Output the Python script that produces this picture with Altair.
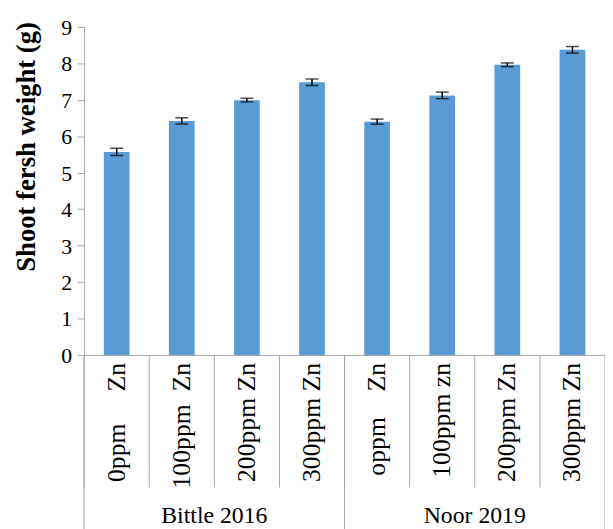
import altair as alt
import pandas as pd

# ---- data ----
keys = ["b0", "b100", "b200", "b300", "n0", "n100", "n200", "n300"]
labels = ["0ppm\u00a0\u00a0\u00a0\u00a0\u00a0Zn", "100ppm\u00a0\u00a0Zn", "200ppm Zn", "300ppm Zn",
          "oppm\u00a0\u00a0\u00a0\u00a0Zn", "100ppm zn", "200ppm Zn", "300ppm Zn"]
values = [5.57, 6.42, 6.99, 7.48, 6.40, 7.12, 7.96, 8.37]
errors = [0.10, 0.085, 0.05, 0.09, 0.07, 0.09, 0.05, 0.09]
groups = ["Bittle 2016", "Noor 2019"]
group_mid_keys = ["b200", "n200"]
group_start_keys = ["b0", "n0"]
y_ticks = [0, 1, 2, 3, 4, 5, 6, 7, 8, 9]

W, H = 527, 332
FONT = "Liberation Serif"
GREY = "#a6a6a6"

df = pd.DataFrame({"key": keys, "label": labels, "value": values, "err": errors})
df["lo"] = df["value"] - df["err"]
df["hi"] = df["value"] + df["err"]

xscale = alt.Scale(domain=keys, paddingInner=0, paddingOuter=0)
yscale = alt.Scale(domain=[0, 9], nice=False)

xaxis = alt.Axis(title=None, labels=False, ticks=False, domain=True,
                 domainColor=GREY, domainWidth=1, grid=False)
yaxis = alt.Axis(values=y_ticks, grid=False, tickSize=7, tickColor=GREY,
                 domainColor=GREY, labels=False,
                 title="Shoot fersh weight (g)", titleFont=FONT,
                 titleFontSize=27, titleFontWeight="bold", titleColor="black",
                 titleX=-58, titleY=121, titleAlign="center",
                 titleBaseline="middle")


def xk(band=0.5):
    return alt.X("key:N", scale=xscale, sort=None, axis=xaxis, bandPosition=band)


def yk(field):
    return alt.Y(field, scale=yscale, axis=yaxis)


base = alt.Chart(df)

bars = base.mark_bar(color="#5B9BD5", width=26).encode(x=xk(), y=yk("value:Q"))

err_rule = base.mark_rule(color="black", strokeWidth=1.5).encode(
    x=xk(), y=yk("lo:Q"), y2="hi:Q")
err_lo = base.mark_tick(color="black", size=13, thickness=1.5).encode(
    x=xk(), y=yk("lo:Q"))
err_hi = base.mark_tick(color="black", size=13, thickness=1.5).encode(
    x=xk(), y=yk("hi:Q"))

ytext = alt.Chart(pd.DataFrame({"t": y_ticks})).mark_text(
    font=FONT, fontSize=22, align="right", baseline="middle", color="black", dy=1).encode(
    x=alt.value(-12),
    y=yk("t:Q"),
    text="t:Q",
)

cat_text = base.mark_text(font=FONT, fontSize=26, angle=270, align="right",
                          baseline="middle", color="black").encode(
    x=xk(),
    y=alt.value(H + 8),
    text="label:N",
)

sep = base.mark_rule(color=GREY, strokeWidth=1).encode(
    x=xk(0), y=alt.value(H), y2=alt.value(H + 134),
)
sep_end = alt.Chart(pd.DataFrame({"key": [keys[-1]]})).mark_rule(color=GREY, strokeWidth=1).encode(
    x=xk(1), y=alt.value(H), y2=alt.value(H + 180),
)
gsep = alt.Chart(pd.DataFrame({"key": group_start_keys})).mark_rule(color=GREY, strokeWidth=1).encode(
    x=xk(0), y=alt.value(H), y2=alt.value(H + 180),
)
gtext = alt.Chart(pd.DataFrame({"key": group_mid_keys, "g": groups})).mark_text(
    font=FONT, fontSize=24, color="black", align="center", baseline="alphabetic").encode(
    x=xk(0),
    y=alt.value(H + 170),
    text="g:N",
)

chart = alt.layer(bars, err_rule, err_lo, err_hi, ytext, sep, sep_end, gsep, cat_text, gtext).properties(
    width=W, height=H,
    autosize=alt.AutoSizeParams(type="none"),
    padding={"left": 77, "top": 16, "right": 0, "bottom": 175},
    background="white",
).configure_view(stroke=None)

chart.save("out.html", embed_options={"renderer": "svg", "actions": False})
